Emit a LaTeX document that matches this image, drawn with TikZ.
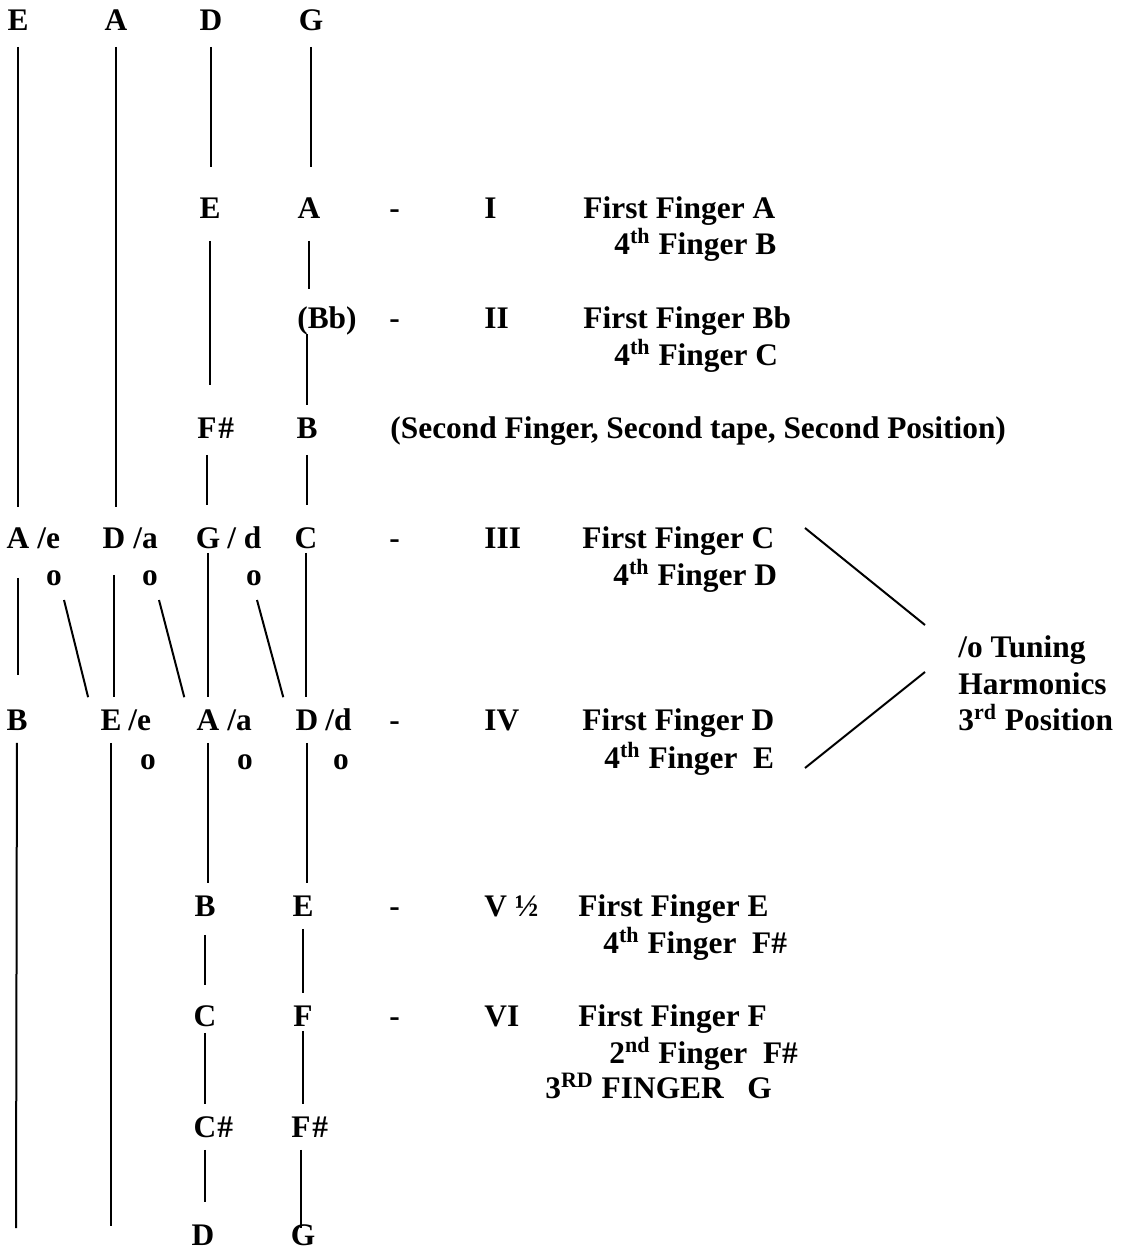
\documentclass[tikz,border=0pt]{standalone}
\usepackage{fontspec}
\setmainfont{Liberation Serif}
\usetikzlibrary{positioning,calc}

\tikzset{
  note/.style={font=\bfseries\fontsize{15.7}{18}\selectfont, text height=10.4pt, text depth=0pt, inner sep=6pt},
  txt/.style={font=\bfseries\fontsize{15.7}{18}\selectfont, text height=10.4pt, text depth=0pt, inner sep=0pt, anchor=west},
  string/.style={line width=1pt}
}

\begin{document}
\begin{tikzpicture}[x=0.5pt,y=-0.5pt]
\useasboundingbox (0,0) rectangle (1121,1252);

% open strings
\foreach \n/\x/\l in {t1/18/E, t2/116/A, t3/211/D, t4/311/G}
  \node[note] (\n) at (\x,20) {\l};

% stopped notes
\foreach \n/\x/\y/\l in {a3/210/208/E, a4/309/208/A, c3/207/428/F, c4/307/428/B,
    d1/18/538/A, d2/114/538/D, d3/208/538/G, d4/306/538/C,
    e1/17/720/B, e2/111/720/E, e3/208/720/A, e4/307/720/D,
    f3/205/906/B, f4/303/906/E, g3/205/1016/C, g4/303/1016/F,
    h3/205/1127/C, h4/301/1127/F, k3/203/1235/D, k4/303/1235/G}
  \node[note] (\n) at (\x,\y) {\l};
\node[note] (b4) at (327,318) {(Bb)};

% octave names and sharps
\foreach \n/\x/\y/\l in {x1/37/538/{/e}, x2/133/538/{/a}, x3/227/538/{/\ d},
    y2/128/720/{/e}, y3/227/720/{/a}, y4/325/720/{/d},
    sh1/218/428/{\#}, sh2/217/1127/{\#}, sh3/312/1127/{\#}}
  \node[txt] (\n) at (\x,\y) {\l};

% harmonic marks
\foreach \n/\x/\y in {o1/54/575, o2/150/575, o3/254/575, o4/148/759, o5/245/759, o6/341/759}
  \node[txt, anchor=center] (\n) at (\x,\y) {o};

% strings
\foreach \u/\v/\s/\e in {t1/d1/2/4, d1/e1/8.5/11, t2/d2/2/4, d2/e2/7/0,
    t3/a3/2/9, a3/c3/5/10, c3/d3/2/5, d3/e3/-4/0, e3/f3/0/0, f3/g3/3/4,
    g3/h3/-3/0, h3/k3/0/5, t4/a4/2/9, a4/b4/5/3, c4/d4/2/5, d4/e4/-4/0,
    e4/f4/0/0, f4/g4/0/0, g4/h4/-4/0, h4/k4/0/-8}
  \draw[string, shorten <=\s pt, shorten >=\e pt] (\u) -- (\v.north -| \u);
\draw[string, shorten <=-3.5pt] (b4.south -| c4) -- (c4);
\coordinate (s1end) at (16,1228);
\coordinate (s2end) at (111,1226);
\draw[string] (e1) -- (s1end);
\draw[string] (e2) -- (s2end);

% crossings to the next string
\foreach \i/\x/\v in {1/64/e2, 2/159/e3, 3/257/e4} {
  \coordinate (hx\i) at (\x,600);
  \draw[string] (hx\i) -- (\v.north west);
}

% positions
\foreach \y/\r in {208/I, 318/II, 538/III, 720/IV, 906/V ½, 1016/VI} {
  \node[txt] (m\y) at (389,\y) {-};
  \node[txt] (p\y) at (484,\y) {\r};
}
\node[txt] (sec) at (390,428) {(Second Finger, Second tape, Second Position)};

\foreach \n/\x/\y/\t in {r1a/583/208/{First Finger A}, r1b/614/244/{4\textsuperscript{th} Finger B},
    r2a/583/318/{First Finger Bb}, r2b/614/355/{4\textsuperscript{th} Finger C},
    r3a/582/538/{First Finger C}, r3b/613/575/{4\textsuperscript{th} Finger D},
    r4a/582/720/{First Finger D}, r4b/604/758/{4\textsuperscript{th} Finger\ \ E},
    r5a/578/906/{First Finger E}, r5b/603/943/{4\textsuperscript{th} Finger\ \ F\#},
    r6a/578/1016/{First Finger F}, r6b/609/1053/{2\textsuperscript{nd} Finger\ \ F\#},
    r6c/545/1088/{3\textsuperscript{RD} FINGER\ \ \ G}}
  \node[txt] (\n) at (\x,\y) {\t};

% tuning harmonics
\node[txt] (tun1) at (958,647) {/o Tuning};
\node[txt] (tun2) at (958,684) {Harmonics};
\node[txt] (tun3) at (958,720) {3\textsuperscript{rd} Position};
\coordinate (bk1) at (805,528);
\coordinate (bk2) at (925,625);
\coordinate (bk3) at (925,672);
\coordinate (bk4) at (805,768);
\draw[string] (bk1) -- (bk2);
\draw[string] (bk3) -- (bk4);
\end{tikzpicture}
\end{document}
